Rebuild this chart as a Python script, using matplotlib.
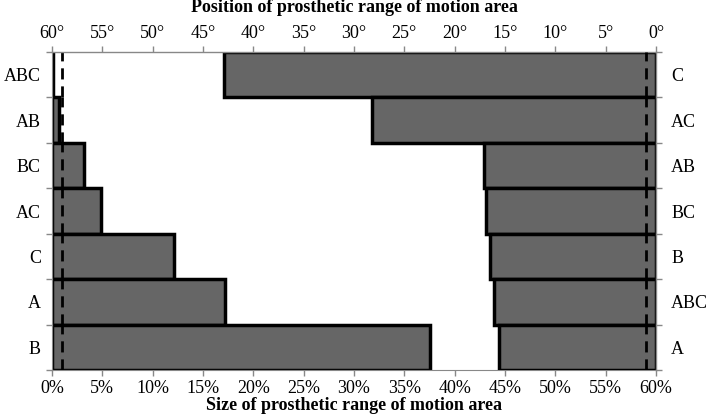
import matplotlib
matplotlib.use('Agg')
import matplotlib.pyplot as plt
import numpy as np

plt.rcParams['font.family'] = ['Liberation Serif', 'DejaVu Serif']

# left bars: size of area (%), rows from top to bottom
size_labels = ['ABC', 'AB', 'BC', 'AC', 'C', 'A', 'B']
size_vals = [0.05, 0.7, 3.2, 4.9, 12.1, 17.2, 37.5]
size_ref = [0.95, 0.95, 0.95, 0.95, 0.95, 0.95, 0.95]

# right bars: position (degrees), rows from top to bottom
pos_labels = ['C', 'AC', 'AB', 'BC', 'B', 'ABC', 'A']
pos_vals = [42.9, 28.2, 17.1, 16.9, 16.5, 16.1, 15.6]
pos_ref = [1.0, 1.0, 1.0, 1.0, 1.0, 1.0, 1.0]

grey = '#666666'
axcol = '#888888'
fs = 13

fig = plt.figure(figsize=(7.08, 4.15), dpi=100)
rect = [52/708, 1-370/415, 604/708, 318/415]

n = len(size_labels)
y = np.arange(n)[::-1]  # top row at highest y

# eixo de baixo / esquerda
ax = fig.add_axes(rect)
ax.barh(y, size_vals, height=1.0, color=grey, edgecolor='black', linewidth=2.5, zorder=2)
for i in range(n):
    ax.plot([size_ref[i], size_ref[i]], [y[i]-0.5, y[i]+0.5], color='black', lw=2,
            dashes=(4, 2.5), zorder=3)
ax.set_xlim(0, 60)
ax.set_ylim(-0.5, n-0.5)
ax.set_xticks(np.arange(0, 61, 5))
ax.set_xticklabels(['%d%%' % v for v in range(0, 61, 5)])
ax.set_yticks(np.arange(-0.5, n, 1.0))
ax.set_yticklabels([])
ax.set_yticks(y, minor=True)
ax.set_yticklabels(size_labels, minor=True)
ax.tick_params(axis='y', which='minor', length=0, labelsize=fs, pad=8)
ax.tick_params(axis='both', which='major', direction='out', length=4, color=axcol,
               labelsize=fs, width=1)
for s in ax.spines.values():
    s.set_color(axcol)
ax.spines['top'].set_visible(False)
ax.spines['right'].set_visible(False)

# eixo de cima / direita
ax2 = fig.add_axes(rect, frameon=False)
ax2.barh(y, pos_vals, height=1.0, color=grey, edgecolor='black', linewidth=2.5, zorder=2)
for i in range(n):
    ax2.plot([pos_ref[i], pos_ref[i]], [y[i]-0.5, y[i]+0.5], color='black', lw=2,
             dashes=(4, 2.5), zorder=3)
ax2.set_xlim(60, 0)
ax2.set_ylim(-0.5, n-0.5)
ax2.xaxis.tick_top()
ax2.yaxis.tick_right()
ax2.set_xticks(np.arange(0, 61, 5))
ax2.set_xticklabels(['%d°' % v for v in range(0, 61, 5)])
ax2.set_yticks(np.arange(-0.5, n, 1.0))
ax2.set_yticklabels([])
ax2.set_yticks(y, minor=True)
ax2.set_yticklabels(pos_labels, minor=True)
ax2.tick_params(axis='y', which='minor', length=0, labelsize=fs, pad=11)
ax2.tick_params(axis='both', which='major', direction='out', length=4, color=axcol,
                labelsize=fs, width=1)
ax2.plot([0, 1], [1, 1], transform=ax2.transAxes, color=axcol, lw=1, clip_on=False)
ax2.plot([1, 1], [0, 1], transform=ax2.transAxes, color=axcol, lw=1, clip_on=False)

# titulos dos eixos
xc = rect[0] + rect[2]/2
fig.text(xc, 1-8/415, 'Position of prosthetic range of motion area', fontsize=13,
         fontweight='bold', ha='center', va='center')
fig.text(xc, 1-405/415, 'Size of prosthetic range of motion area', fontsize=13,
         fontweight='bold', ha='center', va='center')

plt.savefig('out.png', dpi=100)
